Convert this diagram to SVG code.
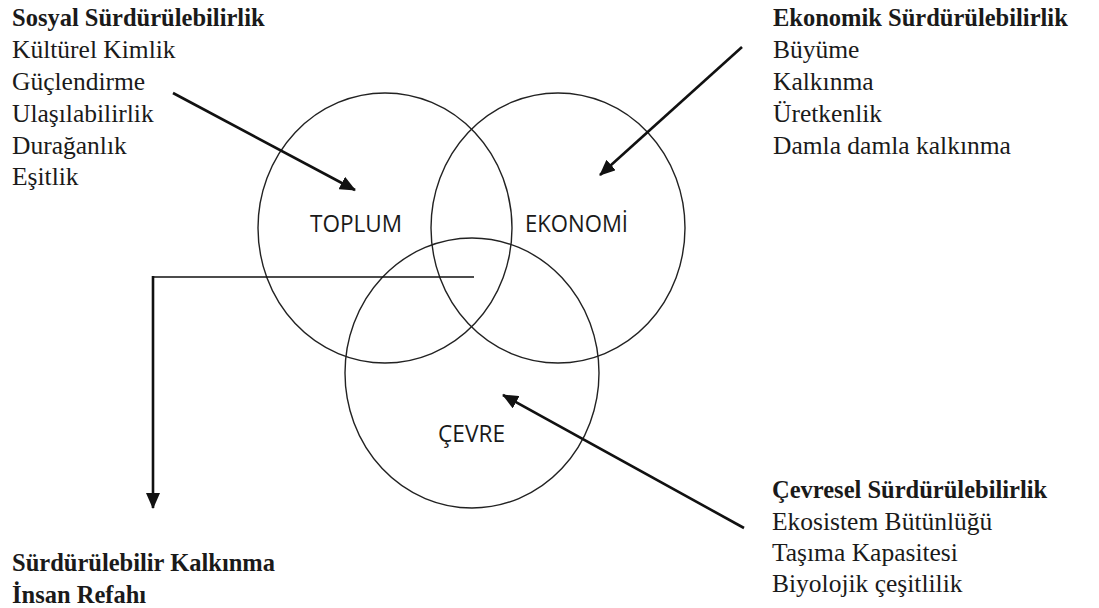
<svg xmlns="http://www.w3.org/2000/svg" width="1099" height="608" viewBox="0 0 1099 608">
  <style>
    .ring { fill: none; stroke: #222; stroke-width: 1.4; }
    .label { font-family: "Open Sans", "Liberation Sans", sans-serif; font-size: 23px; fill: #1a1a1a; }
    .list { font-family: "Liberation Serif", "DejaVu Serif", serif; font-size: 25.5px; fill: #1a1a1a; }
    .head { font-weight: bold; font-size: 24.5px; }
    .arrow { fill: none; stroke: #111; stroke-width: 2.6; }
    .thin { fill: none; stroke: #111; stroke-width: 1.6; }
  </style>
  <defs>
    <marker id="head" viewBox="0 0 16 14" refX="15" refY="7" markerWidth="16" markerHeight="14" markerUnits="userSpaceOnUse" orient="auto">
      <path d="M0,0 L16,7 L0,14 Z" fill="#111"/>
    </marker>
  </defs>
  <rect width="1099" height="608" fill="#ffffff"/>

  <!-- three overlapping circles -->
  <g id="toplum">
    <ellipse class="ring" cx="385" cy="228" rx="127" ry="135"/>
    <text class="label" x="310" y="232" textLength="92" lengthAdjust="spacingAndGlyphs">TOPLUM</text>
  </g>
  <g id="ekonomi">
    <ellipse class="ring" cx="558" cy="228" rx="127" ry="135"/>
    <text class="label" x="525" y="232" textLength="103" lengthAdjust="spacingAndGlyphs">EKONOMİ</text>
  </g>
  <g id="cevre">
    <ellipse class="ring" cx="472" cy="373" rx="127" ry="135"/>
    <text class="label" x="438" y="442" textLength="67" lengthAdjust="spacingAndGlyphs">ÇEVRE</text>
  </g>

  <!-- text blocks -->
  <g id="sosyal">
    <text class="list" x="12" y="26"><tspan class="head">Sosyal Sürdürülebilirlik</tspan>
      <tspan x="12" y="58">Kültürel Kimlik</tspan>
      <tspan x="12" y="90">Güçlendirme</tspan>
      <tspan x="12" y="122">Ulaşılabilirlik</tspan>
      <tspan x="12" y="154">Durağanlık</tspan>
      <tspan x="12" y="185">Eşitlik</tspan></text>
  </g>
  <g id="ekonomik">
    <text class="list" x="773" y="26"><tspan class="head">Ekonomik Sürdürülebilirlik</tspan>
      <tspan x="773" y="58">Büyüme</tspan>
      <tspan x="773" y="90">Kalkınma</tspan>
      <tspan x="773" y="122">Üretkenlik</tspan>
      <tspan x="773" y="154">Damla damla kalkınma</tspan></text>
  </g>
  <g id="cevresel">
    <text class="list" x="772" y="498"><tspan class="head">Çevresel Sürdürülebilirlik</tspan>
      <tspan x="772" y="530">Ekosistem Bütünlüğü</tspan>
      <tspan x="772" y="561">Taşıma Kapasitesi</tspan>
      <tspan x="772" y="592">Biyolojik çeşitlilik</tspan></text>
  </g>
  <g id="kalkinma">
    <text class="list head" x="12" y="571">Sürdürülebilir Kalkınma
      <tspan x="12" y="603">İnsan Refahı</tspan></text>
  </g>

  <!-- connectors -->
  <g id="connectors">
    <line class="arrow" x1="173" y1="93" x2="355" y2="190" marker-end="url(#head)"/>
    <line class="arrow" x1="742" y1="47" x2="600" y2="175" marker-end="url(#head)"/>
    <line class="arrow" x1="744" y1="528" x2="503" y2="395" marker-end="url(#head)"/>
    <line class="thin" x1="474" y1="277" x2="153" y2="277"/>
    <line class="arrow" x1="153" y1="276" x2="153" y2="508" marker-end="url(#head)"/>
  </g>
</svg>
